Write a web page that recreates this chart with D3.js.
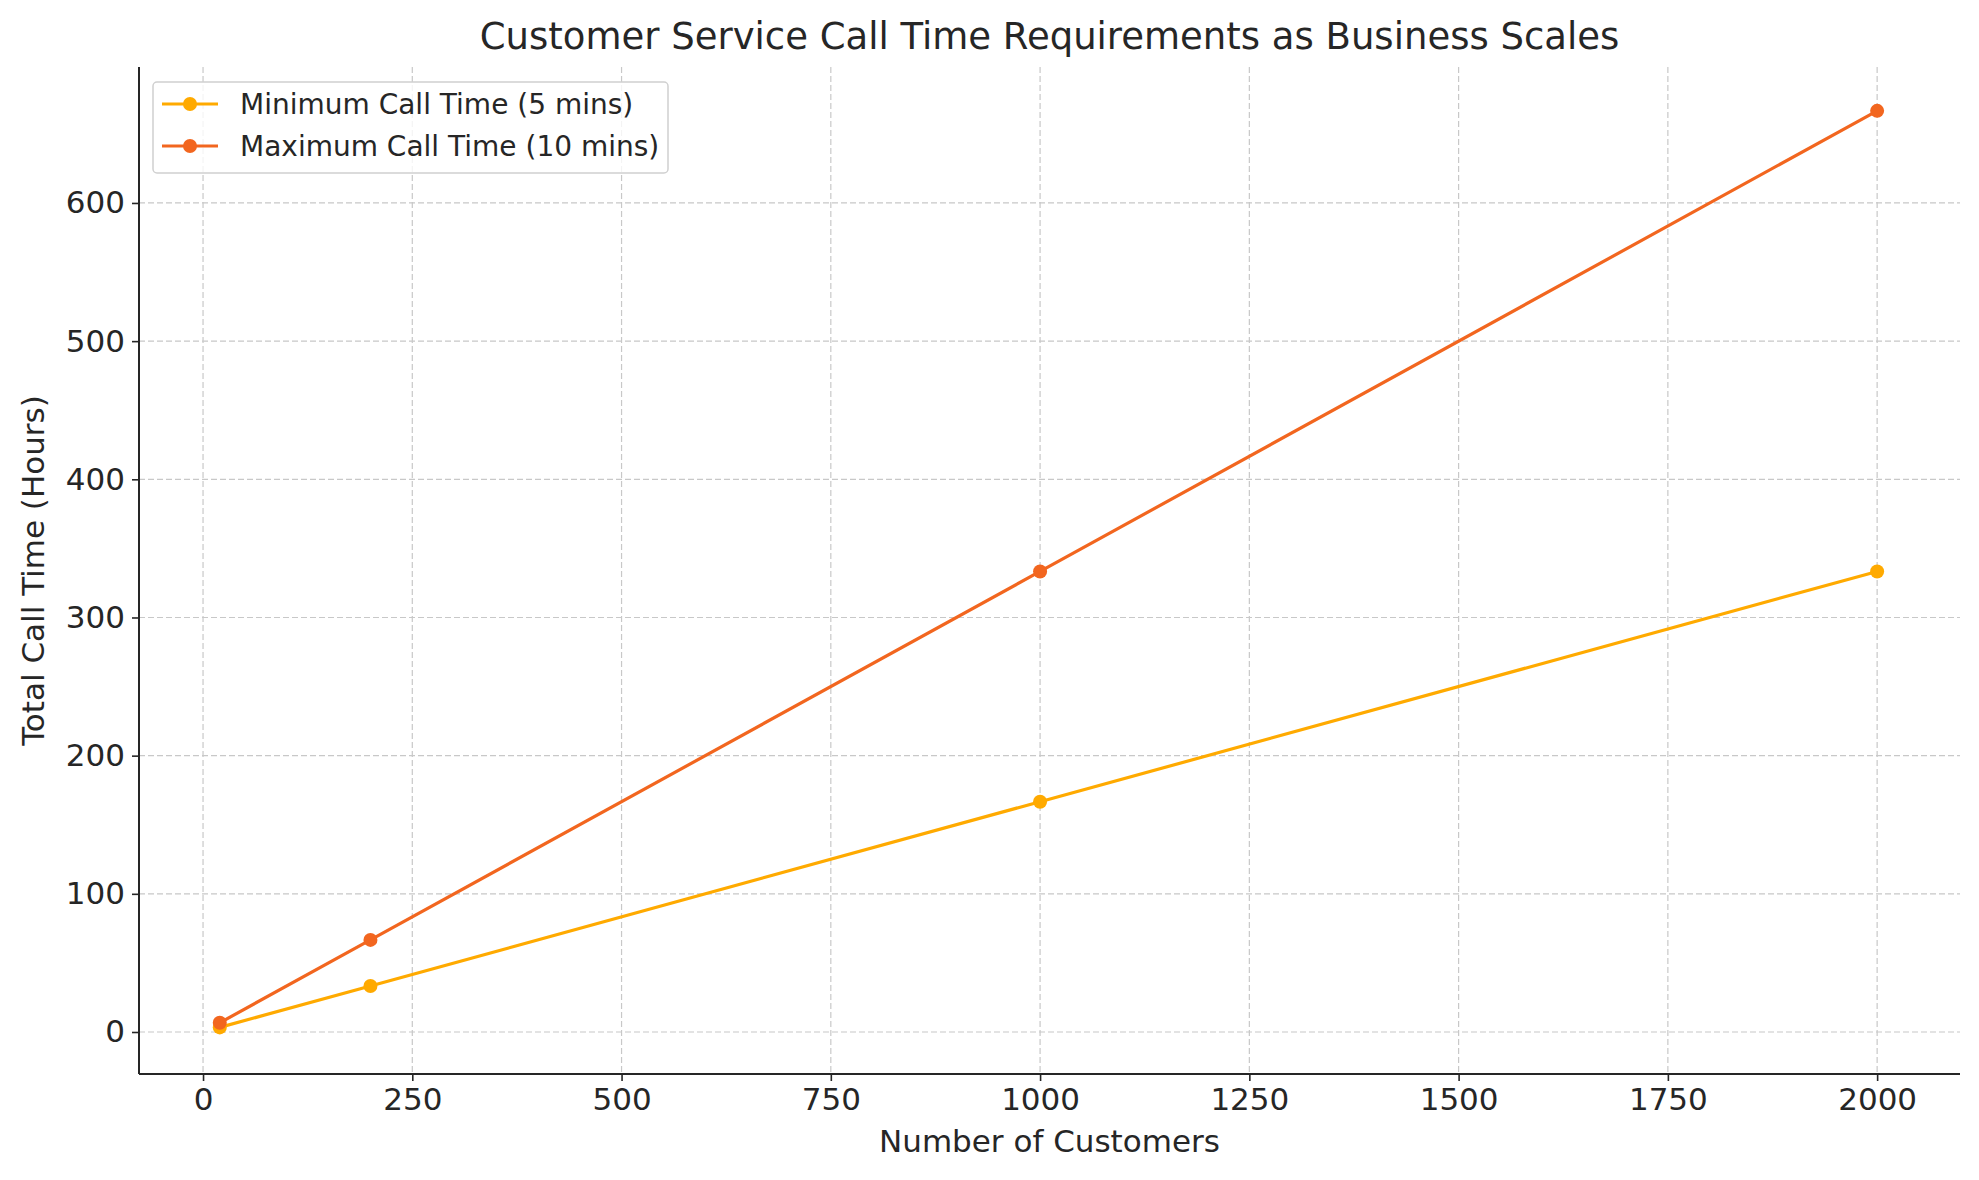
<!DOCTYPE html>
<html><head><meta charset="utf-8">
<script src="https://cdn.jsdelivr.net/npm/d3@7"></script>
<style>body{margin:0;background:#fff}text{font-family:"DejaVu Sans",sans-serif;fill:#262626}</style>
</head><body><svg id="chart" width="1979" height="1180"></svg>
<script>
const customers = [20, 200, 1000, 2000];
const minHours = [3.33, 33.33, 166.67, 333.33];
const maxHours = [6.67, 66.67, 333.33, 666.67];
const xTicks = [0, 250, 500, 750, 1000, 1250, 1500, 1750, 2000];
const yTicks = [0, 100, 200, 300, 400, 500, 600];
const seriesNames = ["Minimum Call Time (5 mins)", "Maximum Call Time (10 mins)"];
const seriesColors = ["#FFAA00", "#F2661F"];

const svg = d3.select("#chart");
const L = 139, R = 1960, T = 67, B = 1074;
const x = d3.scaleLinear().domain([-76.5, 2099]).range([L, R]);
const y = d3.scaleLinear().domain([-30.4, 698.4]).range([B, T]);

// grid
svg.append("g").selectAll("line").data(xTicks).join("line")
  .attr("x1", d => x(d)).attr("x2", d => x(d)).attr("y1", T).attr("y2", B)
  .attr("stroke", "#c8c8c8").attr("stroke-dasharray", "6,3").attr("stroke-width", 1.2);
svg.append("g").selectAll("line").data(yTicks).join("line")
  .attr("y1", d => y(d)).attr("y2", d => y(d)).attr("x1", L).attr("x2", R)
  .attr("stroke", "#c8c8c8").attr("stroke-dasharray", "6,3").attr("stroke-width", 1.2);

// axes
const xAxis = svg.append("g").attr("transform", `translate(0,${B})`)
  .call(d3.axisBottom(x).tickValues(xTicks).tickFormat(d3.format("d")).tickSize(7).tickPadding(7).tickSizeOuter(0));
const yAxis = svg.append("g").attr("transform", `translate(${L},0)`)
  .call(d3.axisLeft(y).tickValues(yTicks).tickFormat(d3.format("d")).tickSize(7).tickPadding(7).tickSizeOuter(0));
[xAxis, yAxis].forEach(a => {
  a.select(".domain").attr("stroke", "#262626").attr("stroke-width", 2);
  a.selectAll(".tick line").attr("stroke", "#262626").attr("stroke-width", 1.6);
  a.selectAll("text").style("font-size", "31px").attr("fill", "#262626");
});
xAxis.select(".domain").attr("d", `M${L},0H${R}`);
yAxis.select(".domain").attr("d", `M0,${B}V${T}`);

// series
[minHours, maxHours].forEach((vals, i) => {
  const pts = customers.map((c, j) => [c, vals[j]]);
  svg.append("path").datum(pts)
    .attr("d", d3.line().x(d => x(d[0])).y(d => y(d[1])))
    .attr("fill", "none").attr("stroke", seriesColors[i]).attr("stroke-width", 3.2);
  svg.append("g").selectAll("circle").data(pts).join("circle")
    .attr("cx", d => x(d[0])).attr("cy", d => y(d[1])).attr("r", 7)
    .attr("fill", seriesColors[i]);
});

// labels
svg.append("text").attr("x", (L + R) / 2).attr("y", 49).attr("text-anchor", "middle")
  .style("font-size", "37px").text("Customer Service Call Time Requirements as Business Scales");
svg.append("text").attr("x", (L + R) / 2).attr("y", 1152).attr("text-anchor", "middle")
  .style("font-size", "31px").text("Number of Customers");
svg.append("text").attr("transform", `translate(44,${(T + B) / 2}) rotate(-90)`)
  .attr("text-anchor", "middle").style("font-size", "31px").text("Total Call Time (Hours)");

// legend
const lg = svg.append("g");
lg.append("rect").attr("x", 153).attr("y", 82).attr("width", 515).attr("height", 91)
  .attr("rx", 4).attr("fill", "#fff").attr("fill-opacity", 0.8).attr("stroke", "#d0d0d0").attr("stroke-width", 1.5);
seriesNames.forEach((n, i) => {
  const cy = 104 + i * 42;
  lg.append("line").attr("x1", 162).attr("x2", 218).attr("y1", cy).attr("y2", cy)
    .attr("stroke", seriesColors[i]).attr("stroke-width", 3.2);
  lg.append("circle").attr("cx", 190).attr("cy", cy).attr("r", 7).attr("fill", seriesColors[i]);
  lg.append("text").attr("x", 240).attr("y", cy + 10).style("font-size", "28px").text(n);
});
</script></body></html>
